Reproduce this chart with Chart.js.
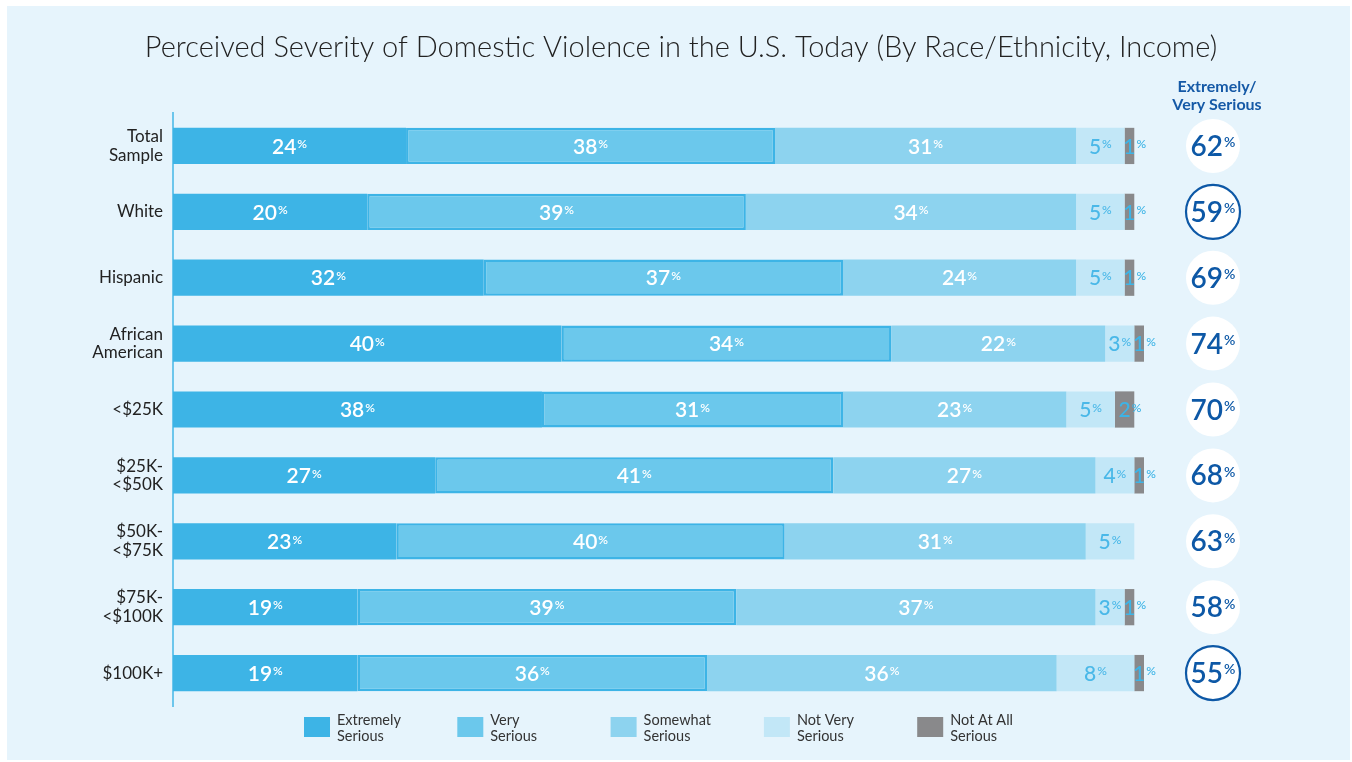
<!DOCTYPE html>
<html>
<head>
<meta charset="utf-8">
<script src="https://cdn.jsdelivr.net/npm/chart.js@4.4.1/dist/chart.umd.min.js"></script>
<style>
  html, body { margin: 0; padding: 0; background: #fff; }
  #wrap { width: 1352px; height: 762px; }
</style>
</head>
<body>
<div id="wrap"><canvas id="chart" width="1352" height="762"></canvas></div>
<script>
// data
const categories = [["Total", "Sample"], "White", "Hispanic", ["African", "American"], "<$25K",
  ["$25K-", "<$50K"], ["$50K-", "<$75K"], ["$75K-", "<$100K"], "$100K+"];
const extremely = [24, 20, 32, 40, 38, 27, 23, 19, 19];
const very = [38, 39, 37, 34, 31, 41, 40, 39, 36];
const somewhat = [31, 34, 24, 22, 23, 27, 31, 37, 36];
const notVery = [5, 5, 5, 3, 5, 4, 5, 3, 8];
const notAtAll = [1, 1, 1, 1, 2, 1, 0, 1, 1];
const extVeryTotal = [62, 59, 69, 74, 70, 68, 63, 58, 55];
const legendLabels = [["Extremely", "Serious"], ["Very", "Serious"], ["Somewhat", "Serious"],
  ["Not Very", "Serious"], ["Not At All", "Serious"]];

const FONT = "Lato, 'Open Sans', sans-serif";
const colors = ["#3db4e6", "#6bc8ec", "#8dd3ef", "#c2e7f7", "#89898b"];
const labelColors = ["#ffffff", "#ffffff", "#ffffff", "#4ab8e8", "#3db4e6"];
const ringedRows = [1, 8]; // rows whose circle has a dark outline

// number with a small raised % sign
function drawPct(ctx, num, x, y, size, supSize, color, weight, digitCentered) {
  ctx.save();
  ctx.fillStyle = color;
  ctx.font = weight + " " + size + "px " + FONT;
  const nw = ctx.measureText(String(num)).width;
  ctx.font = weight + " " + supSize + "px " + FONT;
  const sw = ctx.measureText("%").width;
  let start = digitCentered ? x - nw / 2 : x - (nw + sw + 1) / 2;
  ctx.textBaseline = "middle";
  ctx.textAlign = "left";
  ctx.font = weight + " " + size + "px " + FONT;
  ctx.fillText(String(num), start, y + 1);
  ctx.font = weight + " " + supSize + "px " + FONT;
  ctx.textBaseline = "top";
  ctx.fillText("%", start + nw + 1, y - size * 0.36);
  ctx.restore();
}

const backdrop = {
  id: "backdrop",
  beforeDraw(chart) {
    const ctx = chart.ctx;
    ctx.save();
    ctx.fillStyle = "#ffffff";
    ctx.fillRect(0, 0, chart.width, chart.height);
    ctx.fillStyle = "#e6f4fc";
    ctx.fillRect(7, 6, chart.width - 9, chart.height - 8);
    // title
    ctx.fillStyle = "#222222";
    ctx.font = "300 29px " + FONT;
    ctx.textAlign = "center";
    ctx.textBaseline = "middle";
    ctx.fillText("Perceived Severity of Domestic Violence in the U.S. Today (By Race/Ethnicity, Income)", 681, 48);
    ctx.restore();
  }
};

const extras = {
  id: "extras",
  afterDatasetsDraw(chart) {
    const ctx = chart.ctx;
    const area = chart.chartArea;
    // segment labels
    chart.data.datasets.forEach((ds, di) => {
      const meta = chart.getDatasetMeta(di);
      meta.data.forEach((bar, i) => {
        const v = ds.data[i];
        if (!v) return;
        const cx = (bar.x + bar.base) / 2;
        drawPct(ctx, v, cx, bar.y, 21, 12, labelColors[di], di < 3 ? 600 : 500, di === 4);
      });
    });
    // circles column
    const cx = area.right + 69;
    ctx.save();
    ctx.fillStyle = "#1559a6";
    ctx.font = "700 16px " + FONT;
    ctx.textAlign = "center";
    ctx.textBaseline = "middle";
    ctx.fillText("Extremely/", cx + 4, 87);
    ctx.fillText("Very Serious", cx + 4, 105);
    ctx.restore();
    const yScale = chart.scales.y;
    extVeryTotal.forEach((v, i) => {
      const y = yScale.getPixelForValue(i);
      ctx.save();
      ctx.beginPath();
      ctx.arc(cx, y, 27, 0, Math.PI * 2);
      ctx.fillStyle = "#ffffff";
      ctx.fill();
      if (ringedRows.includes(i)) {
        ctx.lineWidth = 2.2;
        ctx.strokeStyle = "#0d58a6";
        ctx.stroke();
      }
      ctx.restore();
      drawPct(ctx, v, cx, y, 28, 14, "#0d58a6", 600, false);
    });
    // legend
    ctx.save();
    legendLabels.forEach((lines, i) => {
      const x = 304 + i * 153.3;
      ctx.fillStyle = colors[i];
      ctx.fillRect(x, 717, 26, 20);
      ctx.fillStyle = "#333333";
      ctx.font = "400 14.5px " + FONT;
      ctx.textAlign = "left";
      ctx.textBaseline = "middle";
      ctx.fillText(lines[0], x + 33, 720);
      ctx.fillText(lines[1], x + 33, 736);
    });
    ctx.restore();
  }
};

const seriesData = [extremely, very, somewhat, notVery, notAtAll];
const datasets = seriesData.map((d, i) => ({
  label: legendLabels[i].join(" "),
  data: d,
  backgroundColor: colors[i],
  borderColor: i === 1 ? colors[0] : colors[i],
  borderWidth: i === 1 ? 2.5 : 0,
  borderSkipped: false,
  barPercentage: 0.55,
  categoryPercentage: 1
}));

const chartInstance = new Chart(document.getElementById("chart").getContext("2d"), {
  type: "bar",
  data: { labels: categories, datasets: datasets },
  options: {
    indexAxis: "y",
    responsive: false,
    animation: false,
    devicePixelRatio: 1,
    layout: { padding: { top: 113, right: 208, bottom: 56, left: 0 } },
    plugins: {
      legend: { display: false },
      title: { display: false },
      tooltip: { enabled: false }
    },
    scales: {
      x: { stacked: true, min: 0, max: 100, display: false },
      y: {
        stacked: true,
        afterFit: (s) => { s.width = 173; },
        grid: { drawOnChartArea: false, drawTicks: false },
        border: { display: true, color: "#6cc6ec", width: 2 },
        ticks: {
          color: "#222222",
          padding: 10,
          font: { family: FONT, size: 17, lineHeight: 1.1 }
        }
      }
    }
  },
  plugins: [backdrop, extras]
});
</script>
</body>
</html>
